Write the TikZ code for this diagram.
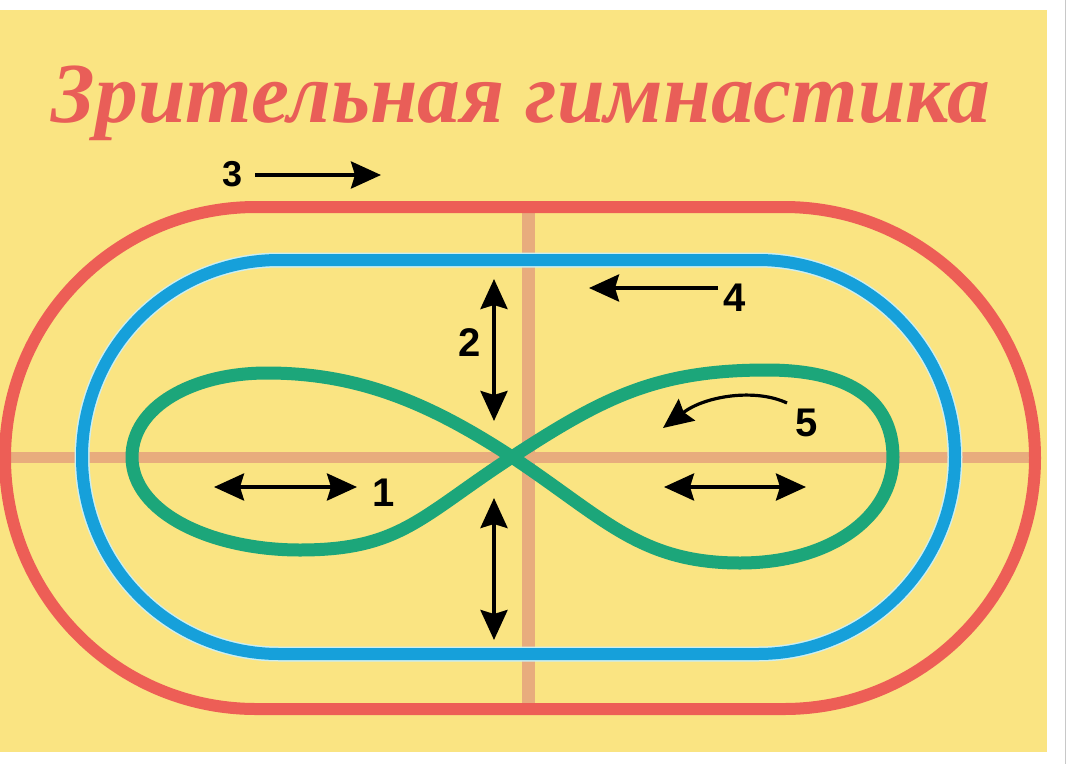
\documentclass[tikz,border=0pt]{standalone}
\usepackage{fontspec}
\setmainfont{Liberation Serif}
\newfontfamily\numfont{Liberation Sans}
\usetikzlibrary{arrows.meta}
\definecolor{bgyellow}{RGB}{250,228,130}
\definecolor{redline}{RGB}{237,94,86}
\definecolor{titlered}{RGB}{233,94,88}
\definecolor{blueline}{RGB}{22,160,218}
\definecolor{bluehalo}{RGB}{205,238,240}
\definecolor{greenline}{RGB}{28,166,122}
\definecolor{tanline}{RGB}{232,172,125}
\definecolor{edgegray}{RGB}{200,200,200}
\tikzset{
  tanstyle/.style={draw=tanline,line width=11pt},
  redtrack/.style={draw=redline,line width=12pt},
  bluetrack/.style={draw=blueline,line width=12pt},
  halotrack/.style={draw=bluehalo,line width=15pt},
  greentrack/.style={draw=greenline,line width=13pt},
  arr/.style={line width=3.8pt,-{Stealth[length=30pt,width=27pt,inset=4pt]}},
  darr/.style={line width=3.8pt,{Stealth[length=30pt,width=27pt,inset=4pt]}-{Stealth[length=30pt,width=27pt,inset=4pt]}},
  numlabel/.style={font=\numfont\bfseries\fontsize{40}{40}\selectfont,inner sep=0pt}
}
\begin{document}
\begin{tikzpicture}[x=1pt,y=-1pt]
\useasboundingbox (0,0) rectangle (1080,764);
\fill[white] (0,0) rectangle (1080,764);
\fill[bgyellow] (0,10) rectangle (1047,752);
\draw[edgegray,line width=1pt] (1065,0) -- (1065,764);
% title
\node[text=titlered,inner sep=0pt,anchor=base] (title) at (521,122)
  {\resizebox{938pt}{!}{\bfseries\itshape Зрительная гимнастика}};
% guide lines
\coordinate (hl) at (4,457);
\coordinate (hr) at (1030,457);
\coordinate (vt) at (528,207);
\coordinate (vb) at (528,709);
\draw[tanstyle] (hl) -- (hr);
\draw[tanstyle,line width=13pt] (vt) -- (vb);
% red track
\draw[redtrack] (256,207) -- (784,207) arc[start angle=90,end angle=-90,radius=251pt]
  -- (256,709) arc[start angle=270,end angle=90,radius=251pt] -- cycle;
% blue track
\draw[halotrack] (279,260) -- (758,260) arc[start angle=90,end angle=-90,radius=197pt]
  -- (279,654) arc[start angle=270,end angle=90,radius=197pt] -- cycle;
\draw[bluetrack] (279,260) -- (758,260) arc[start angle=90,end angle=-90,radius=197pt]
  -- (279,654) arc[start angle=270,end angle=90,radius=197pt] -- cycle;
% green figure eight
\coordinate (c) at (512,457);
\draw[greentrack,line join=round] (c)
  .. controls (428,402) and (357,373) .. (267,373)
  .. controls (192,373) and (132,407) .. (132,457)
  .. controls (132,512) and (210,550) .. (300,550)
  .. controls (400,550) and (420,517) .. (c)
  .. controls (604,518) and (640,563) .. (740,563)
  .. controls (830,563) and (893,517) .. (893,457)
  .. controls (893,402) and (852,370) .. (767,370)
  .. controls (657,370) and (604,397) .. (c);
% arrow 3
\coordinate (a3s) at (255,175);
\coordinate (a3e) at (381,175);
\draw[arr] (a3s) -- (a3e);
\node[numlabel,font=\numfont\bfseries\fontsize{36}{36}\selectfont] (n3) at (233,174) {3};
% arrow 4
\coordinate (a4s) at (718,288);
\coordinate (a4e) at (589,288);
\draw[arr] (a4s) -- (a4e);
\node[numlabel] (n4) at (735,298) {4};
% arrow 2 (vertical upper)
\coordinate (a2t) at (494,279);
\coordinate (a2b) at (494,421);
\draw[darr] (a2t) -- (a2b);
\node[numlabel] (n2) at (470,343) {2};
% vertical lower
\coordinate (a6t) at (494,498);
\coordinate (a6b) at (494,640);
\draw[darr] (a6t) -- (a6b);
% arrow 1
\coordinate (a1l) at (214,487);
\coordinate (a1r) at (357,487);
\draw[darr] (a1l) -- (a1r);
\node[numlabel] (n1) at (384,493) {1};
% right horizontal
\coordinate (a7l) at (664,487);
\coordinate (a7r) at (806,487);
\draw[darr] (a7l) -- (a7r);
% arrow 5 curved
\coordinate (a5s) at (787,403);
\coordinate (a5e) at (663,428);
\draw[arr,line width=3.2pt] (a5s) .. controls (755,388) and (705,396) .. (a5e);
\node[numlabel] (n5) at (807,423) {5};
\end{tikzpicture}
\end{document}
